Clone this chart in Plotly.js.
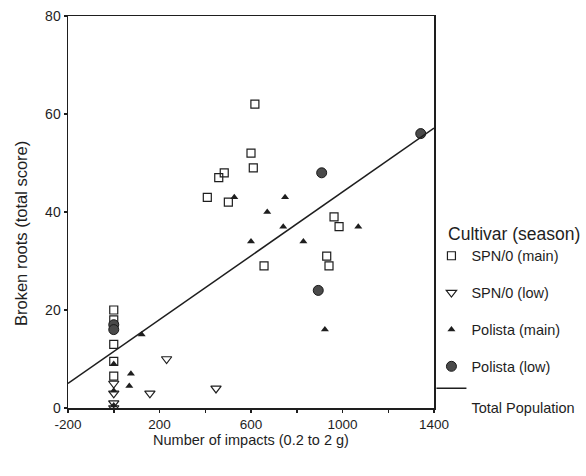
<!DOCTYPE html>
<html>
<head>
<meta charset="utf-8">
<script src="https://cdn.plot.ly/plotly-3.0.1.min.js"></script>
<style>html,body{margin:0;padding:0;background:#fff;}#chart{width:586px;height:476px;}</style>
</head>
<body>
<div id="chart"></div>
<script>
// SPN/0 (main season)
const spnMainX = [0, 0, 0, 0, 0, 409, 459, 483, 501, 600, 610, 617, 657, 931, 941, 963, 985];
const spnMainY = [20, 18, 13, 9.5, 6.5, 43, 47, 48, 42, 52, 49, 62, 29, 31, 29, 39, 37];
// SPN/0 (low season)
const spnLowX = [0, 0, 0, 0, 158, 231, 447];
const spnLowY = [5, 3, 1, 0, 3, 10, 4];
// Polista (main season)
const polMainX = [0, 0, 0, 68, 75, 122, 527, 600, 671, 741, 749, 829, 923, 1069];
const polMainY = [9, 3.5, 0.5, 4.5, 7, 15, 43, 34, 40, 37, 43, 34, 16, 37];
// Polista (low season)
const polLowX = [0, 0, 894, 909, 1342];
const polLowY = [17, 16, 24, 48, 56];
// Total population regression line (end points)
const fitX = [-200, 1400];
const fitY = [5, 57.1];

const xTickVals = [-200, 0, 200, 400, 600, 800, 1000, 1200, 1400];
const xTickText = ['-200', '', '200', '', '600', '', '1000', '', '1400'];
const yTickVals = [0, 20, 40, 60, 80];
const yTickText = ['0', '20', '40', '60', '80'];

const ink = '#1e1e1e';
const font = 'Liberation Sans, Arial, sans-serif';

const traces = [
  {x: spnMainX, y: spnMainY, type: 'scatter', mode: 'markers', name: 'SPN/0 (main)', legendgroup: 'a',
   marker: {symbol: 'square-open', size: 8, color: ink, line: {width: 1.2, color: ink}}},
  {x: spnLowX, y: spnLowY, type: 'scatter', mode: 'markers', name: 'SPN/0 (low)', legendgroup: 'b',
   marker: {symbol: 'triangle-down-open', size: 9, color: ink, line: {width: 1.2, color: ink}}},
  {x: polMainX, y: polMainY, type: 'scatter', mode: 'markers', name: 'Polista (main)', legendgroup: 'c',
   marker: {symbol: 'triangle-up', size: 7, color: ink}},
  {x: polLowX, y: polLowY, type: 'scatter', mode: 'markers', name: 'Polista (low)', legendgroup: 'd',
   marker: {symbol: 'circle', size: 10, color: '#4a4a4a', line: {width: 1, color: '#1a1a1a'}}},
  {x: fitX, y: fitY, type: 'scatter', mode: 'lines', name: ' <br>Total Population', legendgroup: 'd',
   line: {color: ink, width: 1.5}}
];

const layout = {
  width: 586, height: 476,
  margin: {l: 68, r: 152, t: 16, b: 68, autoexpand: false},
  paper_bgcolor: '#ffffff', plot_bgcolor: '#ffffff',
  font: {family: font, color: ink},
  showlegend: true,
  legend: {
    x: 0.993, xanchor: 'left', y: 0.487, yanchor: 'top',
    bgcolor: 'rgba(0,0,0,0)',
    font: {size: 14.5, family: font, color: ink},
    title: {text: '&nbsp;&nbsp;&nbsp;Cultivar (season)', font: {size: 17.5, family: font, color: ink}},
    tracegroupgap: 15, valign: 'top', itemwidth: 30
  },
  xaxis: {
    range: [-200, 1400], tickmode: 'array', tickvals: xTickVals, ticktext: xTickText,
    ticks: 'outside', ticklen: 3, tickwidth: 1.5, tickcolor: ink,
    showline: true, linecolor: ink, linewidth: 1.5, mirror: true,
    showgrid: false, zeroline: false, automargin: false,
    tickfont: {size: 13.5, family: font, color: ink},
    title: {text: 'Number of impacts (0.2 to 2 g)', font: {size: 14.5, family: font, color: ink}, standoff: 4}
  },
  yaxis: {
    range: [0, 80], tickmode: 'array', tickvals: yTickVals, ticktext: yTickText,
    ticks: 'outside', ticklen: 3, tickwidth: 1.5, tickcolor: ink,
    showline: true, linecolor: ink, linewidth: 1.5, mirror: true,
    showgrid: false, zeroline: false, automargin: false,
    tickfont: {size: 14, family: font, color: ink}
  },
  annotations: [
    {text: 'Broken roots (total score)', textangle: -90, showarrow: false,
     xref: 'paper', yref: 'paper', x: -0.13, y: 0.445, xanchor: 'center', yanchor: 'middle',
     font: {size: 16.5, family: font, color: ink}}
  ]
};

Plotly.newPlot('chart', traces, layout, {displayModeBar: false, staticPlot: true});
</script>
</body>
</html>
